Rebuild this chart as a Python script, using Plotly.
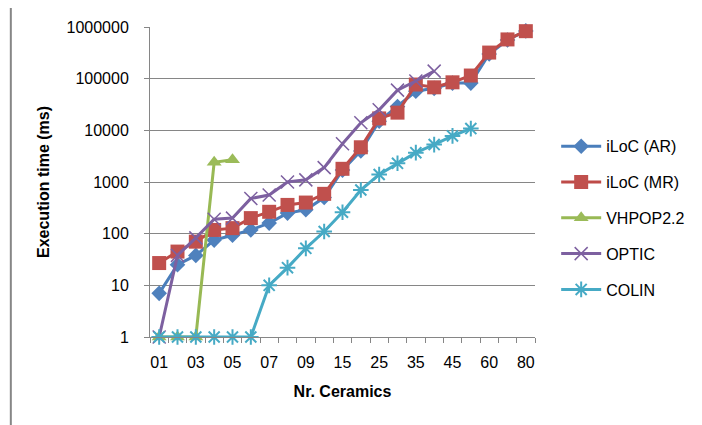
import plotly.graph_objects as go

categories = ["01", "02", "03", "04", "05", "06", "07", "08", "09", "10",
              "15", "20", "25", "30", "35", "40", "45", "50", "60", "70", "80"]
tick_labels = ["01", "", "03", "", "05", "", "07", "", "09", "", "15", "",
               "25", "", "35", "", "45", "", "60", "", "80"]

iloc_ar = [7, 25, 38, 75, 93, 118, 160, 250, 290, 500, 1700, 4000, 15000,
           29000, 57000, 65000, 82000, 82000, 300000, 560000, 840000]
iloc_mr = [27, 45, 70, 118, 128, 200, 265, 360, 400, 590, 1800, 4700, 17000,
           22000, 77000, 68000, 85000, 115000, 320000, 575000, 830000]
vhpop_x = ["01", "02", "03", "04", "05"]
vhpop = [1, 1, 1, 2400, 2700]
optic_x = categories[:16]
optic = [1, 38, 83, 190, 200, 480, 560, 1000, 1100, 1900, 5500, 14000,
         25000, 60000, 90000, 140000]
colin_x = categories[:18]
colin = [1, 1, 1, 1, 1, 1, 10, 22, 52, 110, 260, 700, 1400, 2300, 3700,
         5300, 7800, 10800]

fig = go.Figure()
common = dict(mode="lines+markers", cliponaxis=False)
fig.add_trace(go.Scatter(x=categories, y=iloc_ar, name="iLoC (AR)", legendgroup="a",
                         line=dict(color="#4A7EBB", width=3),
                         marker=dict(symbol="diamond", size=12, color="#4F81BD"), **common))
fig.add_trace(go.Scatter(x=categories, y=iloc_mr, name="iLoC (MR)", legendgroup="b",
                         line=dict(color="#BE4B48", width=3),
                         marker=dict(symbol="square", size=14, color="#C0504D"), **common))
fig.add_trace(go.Scatter(x=vhpop_x, y=vhpop, name="VHPOP2.2", legendgroup="c",
                         line=dict(color="#98B954", width=3),
                         marker=dict(symbol="triangle-up", size=13, color="#9BBB59"), **common))
fig.add_trace(go.Scatter(x=optic_x, y=optic, name="OPTIC", legendgroup="d",
                         line=dict(color="#7D60A0", width=3),
                         marker=dict(symbol="x-thin-open", size=13,
                                     line=dict(color="#8064A2", width=1.5)), **common))
fig.add_trace(go.Scatter(x=colin_x, y=colin, name="COLIN", legendgroup="e",
                         line=dict(color="#46AAC5", width=3),
                         marker=dict(symbol="asterisk-open", size=13,
                                     line=dict(color="#4BACC6", width=2)), **common))

font = "Liberation Sans, Arial, sans-serif"
fig.update_layout(
    width=694, height=417,
    margin=dict(l=142, r=163, t=19, b=88),
    paper_bgcolor="white", plot_bgcolor="white",
    font=dict(family=font, size=16, color="black"),
    showlegend=True,
    legend=dict(x=1.055, y=0.67, xanchor="left", yanchor="top",
                font=dict(size=16), tracegroupgap=12, itemwidth=40,
                bgcolor="rgba(0,0,0,0)"),
    xaxis=dict(type="category", categoryorder="array", categoryarray=categories,
               tickmode="array", tickvals=categories, ticktext=tick_labels,
               tickson="boundaries", ticks="outside", ticklen=5, tickcolor="#868686",
               tickangle=0,
               showline=True, linecolor="#868686", linewidth=1, showgrid=False,
               ticklabelstandoff=11, range=[-0.5, 20.5],
               title=dict(text="<b>Nr. Ceramics</b>", standoff=15, font=dict(size=16))),
    yaxis=dict(type="log", range=[0, 6], tickmode="array",
               tickvals=[1, 10, 100, 1000, 10000, 100000, 1000000],
               ticktext=["1", "10", "100", "1000", "10000", "100000", "1000000"],
               ticks="outside", ticklen=5, tickcolor="#868686",
               showline=True, linecolor="#868686", linewidth=1,
               showgrid=True, gridcolor="#868686", gridwidth=1,
               ticklabelstandoff=12, zeroline=False,
               title=dict(text="<b>Execution time (ms)</b>", standoff=12, font=dict(size=16))),
    shapes=[dict(type="rect", xref="paper", yref="paper",
                 x0=-0.3615, x1=1.45, y0=-0.32, y1=1.068,
                 line=dict(color="#868686", width=2), layer="below")],
)

fig.write_html("out.html")
